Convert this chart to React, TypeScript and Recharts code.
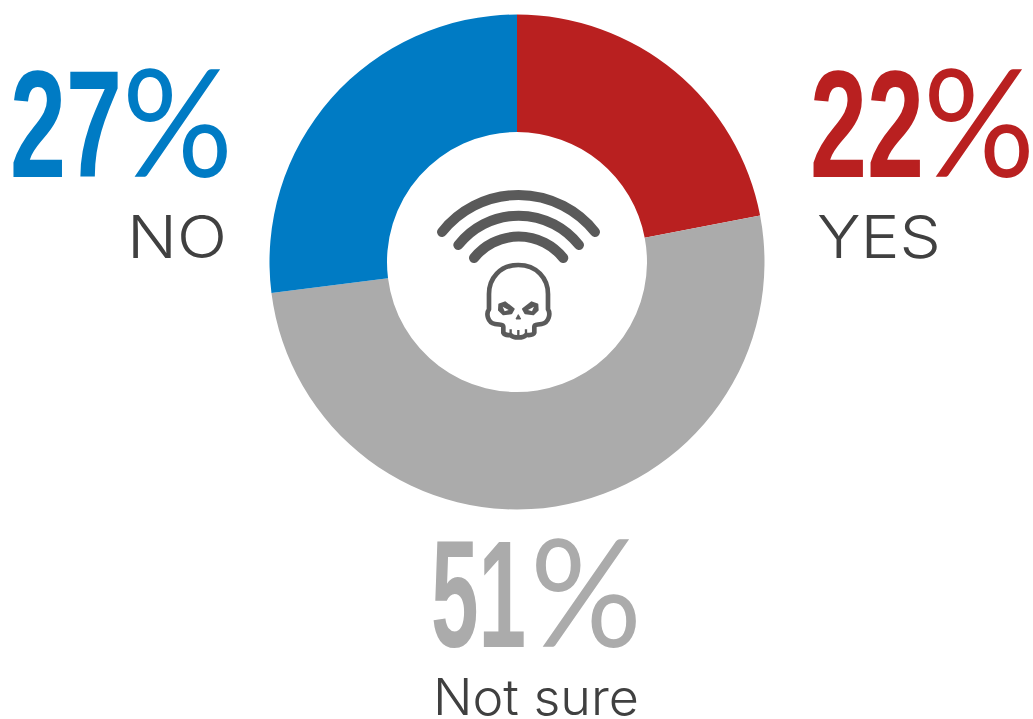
import React from "react";
import { PieChart, Pie, Cell } from "recharts";

const names = ["YES", "Not sure", "NO"];
const values = [22, 51, 27];
const colors = ["#B92020", "#ABABAB", "#007BC4"];
const rows = names.map((name, i) => ({ name, value: values[i] }));

const NUM = "'Liberation Sans Narrow','Liberation Sans',sans-serif";
const PCT = "Lato,'Open Sans',sans-serif";
const LAB = "Inter,Lato,sans-serif";

function Big({ v, color, x0, x1, x2, x3, base }: any) {
  return (
    <g fill={color}>
      <text x={x0} y={base} fontFamily={NUM} fontSize={153} fontWeight={700} textLength={x1 - x0} lengthAdjust="spacingAndGlyphs">{v}</text>
      <text x={x2} y={base} fontFamily={PCT} fontSize={150} fontWeight={400} textLength={x3 - x2} lengthAdjust="spacingAndGlyphs">%</text>
    </g>
  );
}

export default function App() {
  return (
    <div style={{ position: "absolute", left: 0, top: 0, width: 1033, height: 719 }}>
      <PieChart width={1033} height={719} margin={{ top: 0, right: 0, bottom: 0, left: 0 }}>
        <Pie data={rows} dataKey="value" cx={517} cy={262} innerRadius={130} outerRadius={247.5}
          startAngle={90} endAngle={-270} stroke="none" isAnimationActive={false}>
          {rows.map((r, i) => <Cell key={r.name} fill={colors[i]} />)}
        </Pie>
      </PieChart>
      <svg width={1033} height={719} style={{ position: "absolute", left: 0, top: 0 }}>
        <Big v={values[2]} color={colors[2]} x0={10} x1={122} x2={122} x3={233} base={177} />
        <Big v={values[0]} color={colors[0]} x0={810} x1={924} x2={923} x3={1035} base={177} />
        <Big v={values[1]} color={colors[1]} x0={431} x1={526} x2={530} x3={642} base={647} />
        <g fontFamily={LAB} fontWeight={300} fontSize={59} fill="#404040">
          <text x={127} y={258} textLength={100} lengthAdjust="spacingAndGlyphs">{names[2]}</text>
          <text x={817} y={258} textLength={124} lengthAdjust="spacingAndGlyphs">{names[0]}</text>
          <text x={433} y={715} fontSize={50} textLength={206} lengthAdjust="spacingAndGlyphs">{names[1]}</text>
        </g>
        <g fill="none" stroke="#5A5A5A" strokeLinecap="round" strokeWidth={10}>
          <path d="M442 232 A97.6 97.6 0 0 1 595 232" />
          <path d="M458.3 245 A76.7 76.7 0 0 1 579 245" />
          <path d="M474 258 A57.3 57.3 0 0 1 563.3 258" />
        </g>
        <g transform="translate(420 170) scale(0.3333)" fill="none" stroke="#5A5A5A" strokeWidth={14} strokeLinejoin="round">
          <path d="M295 285 C240 285 207 325 207 372 L207 418 C198 430 202 458 225 462 C240 465 250 462 250 470 L250 488 C255 498 265 495 272 495 C280 505 310 505 318 495 C325 495 340 498 343 488 L343 470 C343 462 352 465 365 462 C388 458 392 430 384 418 L384 372 C384 325 350 285 295 285 Z" />
          <path d="M272 492 L272 478 M295 498 L295 480 M318 492 L318 478" strokeWidth={7} />
          <path d="M238 403 L255 397 L281 417 L274 430 L250 433 L237 420 Z" fill="#5A5A5A" strokeWidth={6} />
          <path d="M352 403 L335 397 L309 417 L316 430 L340 433 L353 420 Z" fill="#5A5A5A" strokeWidth={6} />
          <path d="M295 434 L288 447 L302 447 Z" fill="#5A5A5A" strokeWidth={3} />
          <path d="M248 410 L266 420 L254 424 Z M342 410 L324 420 L336 424 Z" fill="#fff" stroke="none" />
        </g>
      </svg>
    </div>
  );
}
